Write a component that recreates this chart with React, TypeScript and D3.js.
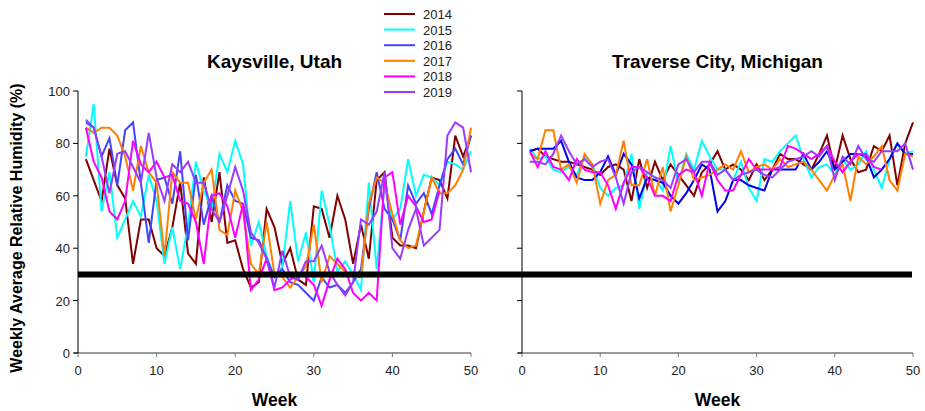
import React from "react";
import * as d3 from "d3";

const years = ["2014", "2015", "2016", "2017", "2018", "2019"];
const colorsLeft = ["#800000", "#00ffff", "#4444ff", "#ff8000", "#ff00ff", "#9b3bff"];
const colorsRight = ["#800000", "#00ffff", "#0000ee", "#ff8000", "#ff00ff", "#9b3bff"];
const xTicks = [0, 10, 20, 30, 40, 50];
const yTicks = [0, 20, 40, 60, 80, 100];
const threshold = 30;

const kays2014 = [74,66,58,78,64,59,34,51,51,40,37,48,65,38,34,67,50,69,42,43,32,25,27,55,48,34,40,28,26,56,55,44,60,51,34,49,36,66,69,44,41,41,40,54,67,66,59,83,75,83];
const kays2015 = [75,95,54,69,44,51,58,52,68,58,34,48,32,49,73,62,55,76,69,81,72,41,50,37,29,33,58,35,46,27,62,49,31,35,30,24,65,32,64,51,55,74,60,68,67,64,73,72,70,77];
const kays2016 = [88,86,75,82,64,85,88,65,42,66,67,57,77,43,68,49,60,50,64,58,57,44,43,36,29,32,27,26,23,20,29,25,26,23,27,32,55,69,55,51,43,64,57,61,53,64,74,78,72,83];
const kays2017 = [86,84,86,86,83,75,62,79,69,65,37,69,65,65,51,65,70,47,45,62,54,34,30,50,30,29,25,29,33,49,27,37,34,31,29,29,57,67,65,53,43,40,41,54,67,61,61,64,70,86];
const kays2018 = [86,73,67,54,51,58,81,72,69,73,67,68,58,57,50,34,60,61,56,44,57,24,28,36,24,25,28,30,29,26,18,28,36,32,23,20,23,20,67,69,49,60,56,50,51,62];
const kays2019 = [89,86,75,61,76,77,71,65,84,67,58,72,69,73,65,65,55,50,60,71,62,46,42,36,25,39,29,28,35,35,41,31,26,22,27,51,49,54,69,40,36,47,55,41,44,47,83,88,86,69];

const trav2014 = [77,78,75,74,73,73,72,71,70,68,71,72,70,58,74,63,73,66,72,68,64,60,69,72,77,70,72,70,66,72,66,70,76,74,74,72,70,76,83,70,83,74,69,70,79,77,83,64,80,88];
const trav2015 = [78,74,75,70,69,71,68,75,72,63,60,63,64,76,55,69,67,62,79,65,76,70,81,75,70,70,66,73,63,58,74,73,77,80,83,74,67,71,72,68,74,70,72,77,70,63,74,80,76,77];
const trav2016 = [77,78,78,78,81,73,67,66,66,69,75,68,76,72,59,67,66,65,60,57,61,66,72,70,54,58,66,66,64,63,62,70,70,70,70,76,70,73,77,70,73,76,76,75,67,70,74,80,76,76];
const trav2017 = [76,74,85,85,70,72,65,76,72,57,66,68,81,64,64,74,60,71,54,64,75,66,67,68,70,72,70,77,69,71,72,70,74,71,72,73,70,66,62,68,72,58,75,72,75,79,66,62,76,75];
const trav2018 = [77,71,77,71,70,66,74,70,69,69,64,55,65,71,71,67,60,60,58,68,70,69,60,73,66,62,62,68,74,70,70,70,71,79,78,76,74,76,79,73,69,73,76,76,71,70];
const trav2019 = [73,73,72,76,83,77,72,74,71,73,74,67,57,69,71,69,67,66,63,72,74,69,73,73,68,70,66,68,69,70,68,67,70,73,74,75,77,75,79,66,75,72,79,74,73,77,77,77,80,70];

const kaysSeries = [kays2014, kays2015, kays2016, kays2017, kays2018, kays2019];
const travSeries = [trav2014, trav2015, trav2016, trav2017, trav2018, trav2019];

const FONT = "'Liberation Sans', Arial, sans-serif";

const y = d3.scaleLinear().domain([0, 100]).range([353, 91]);
const xL = d3.scaleLinear().domain([0, 50]).range([78, 471]);
const xR = d3.scaleLinear().domain([0, 50]).range([522, 913]);

function Panel({ x, series, colors, title, showLabels }: any) {
  const line = d3
    .line<number>()
    .x((_, i) => x(i + 1))
    .y((d) => y(d));
  const [x0, x1] = x.range();
  return (
    <g>
      {series.map((s: number[], i: number) => (
        <path key={i} d={line(s) || ""} fill="none" stroke={colors[i]} strokeWidth={2} strokeLinejoin="miter" />
      ))}
      <line x1={x0 - 4} x2={x1} y1={y(0)} y2={y(0)} stroke="#777" strokeWidth={1.3} />
      {xTicks.map((t) => (
        <g key={t}>
          <line x1={x(t)} x2={x(t)} y1={y(0)} y2={y(0) + 4} stroke="#777" strokeWidth={1} />
          <text x={x(t)} y={y(0) + 22} textAnchor="middle" fontSize={13} fill="#222" fontFamily={FONT}>
            {t}
          </text>
        </g>
      ))}
      <line x1={x0} x2={x0} y1={y(100)} y2={y(0)} stroke="#000" strokeWidth={1} />
      {yTicks.map((t) => (
        <g key={t}>
          <line x1={x0 - 5} x2={x0} y1={y(t)} y2={y(t)} stroke="#000" strokeWidth={1} />
          {showLabels && (
            <text x={x0 - 8} y={y(t) + 5} textAnchor="end" fontSize={13} fill="#222" fontFamily={FONT}>
              {t}
            </text>
          )}
        </g>
      ))}
      <text x={(x0 + x1) / 2} y={68} textAnchor="middle" fontSize={19} fontWeight="bold" fontFamily={FONT}>
        {title}
      </text>
      <text x={(x0 + x1) / 2} y={406} textAnchor="middle" fontSize={17.5} fontWeight="bold" fontFamily={FONT}>
        Week
      </text>
    </g>
  );
}

export default function App() {
  return (
    <svg width={925} height={411} style={{ position: "absolute", left: 0, top: 0, background: "#fff" }}>
      <rect width={925} height={411} fill="#fff" />
      <Panel x={xL} series={kaysSeries} colors={colorsLeft} title="Kaysville, Utah" showLabels={true} />
      <Panel x={xR} series={travSeries} colors={colorsRight} title="Traverse City, Michigan" showLabels={false} />
      <line x1={xL(0)} x2={xR(50) - 1} y1={y(threshold)} y2={y(threshold)} stroke="#000" strokeWidth={6} />
      <text
        transform={`translate(22,${(y(0) + y(100)) / 2 + 6}) rotate(-90)`}
        textAnchor="middle"
        fontSize={16}
        fontWeight="bold"
        fontFamily={FONT}
      >
        Weekly Average Relative Humidity (%)
      </text>
      {years.map((yr, i) => (
        <g key={yr} transform={`translate(384,${14 + i * 15.6})`}>
          <line x1={0} x2={31} y1={0} y2={0} stroke={colorsLeft[i]} strokeWidth={2} />
          <text x={39} y={5} fontSize={13} fill="#222" fontFamily={FONT}>
            {yr}
          </text>
        </g>
      ))}
    </svg>
  );
}
